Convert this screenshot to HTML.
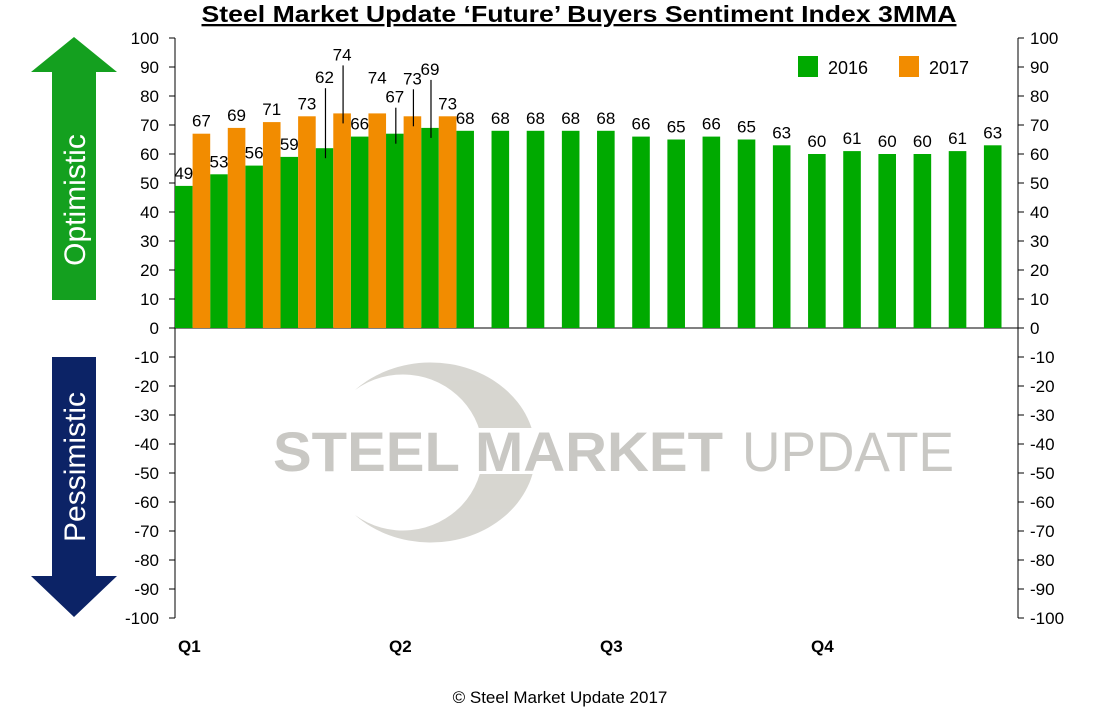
<!DOCTYPE html>
<html><head><meta charset="utf-8"><style>
html,body{margin:0;padding:0;background:#fff;}
svg{display:block;font-family:"Liberation Sans",sans-serif;}
</style></head><body>
<svg id="chart" width="1120" height="711" viewBox="0 0 1120 711">
  <text x="579" y="22" text-anchor="middle" font-size="23" font-weight="bold" textLength="755" lengthAdjust="spacingAndGlyphs" text-decoration="underline">Steel Market Update ‘Future’ Buyers Sentiment Index 3MMA</text>
  <g opacity="0.9">
    <path d="M 355 390 A 105 90 0 1 1 355 515 A 80 78 0 1 0 355 390 Z" fill="#d3d2cc"/>
    <rect x="470" y="428" width="75" height="46" fill="#fff"/>
    <text x="273" y="471" font-size="56" font-weight="bold" fill="#c4c3be" textLength="450" lengthAdjust="spacingAndGlyphs">STEEL MARKET</text>
    <text x="742" y="471" font-size="56" fill="#c4c3be" textLength="212" lengthAdjust="spacingAndGlyphs">UPDATE</text>
  </g>
  <g>
    <polygon points="74,37 117,72 96,72 96,300 52,300 52,72 31,72" fill="#14a01f"/>
    <text transform="translate(85,200) rotate(-90)" text-anchor="middle" font-size="30" fill="#fff">Optimistic</text>
  </g>
  <g>
    <polygon points="52,357 96,357 96,576 117,576 74,617 31,576 52,576" fill="#0c2366"/>
    <text transform="translate(85,467) rotate(-90)" text-anchor="middle" font-size="30" fill="#fff">Pessimistic</text>
  </g>
  <g id="axes"></g>
  <g id="bars"></g>
  <g id="labels"></g>
  <g>
    <rect x="798" y="56" width="20" height="21" fill="#00aa00"/>
    <text x="828" y="74" font-size="18">2016</text>
    <rect x="899" y="56" width="20" height="21" fill="#f28c00"/>
    <text x="929" y="74" font-size="18">2017</text>
  </g>
  <text x="560" y="703" text-anchor="middle" font-size="17">© Steel Market Update 2017</text>
</svg>
<script>
const values2016 = [49,53,56,59,62,66,67,69,68,68,68,68,68,66,65,66,65,63,60,61,60,60,61,63];
const values2017 = [67,69,71,73,74,74,73,73];
const quarterLabels = ["Q1","Q2","Q3","Q4"];
const quarterStartIndex = [0,6,12,18];
const yTicks = [100,90,80,70,60,50,40,30,20,10,0,-10,-20,-30,-40,-50,-60,-70,-80,-90,-100];
// extra label lift (px) and leader-line flags, presentation only
const lift2016 = [0,0,0,0,58,0,24,46,0,0,0,0,0,0,0,0,0,0,0,0,0,0,0,0];
const lift2017 = [0,0,0,0,46,23,25,0];

const NS="http://www.w3.org/2000/svg";
const X0=175, X1=1018, SLOT=35.17, BW=17.6;
const Y0=328, PX=2.9;
const y = v => Y0 - v*PX;
const xg = i => X0 + i*SLOT;
const xo = i => X0 + i*SLOT + BW;
function mk(tag, attrs, parent){const e=document.createElementNS(NS,tag);for(const k in attrs)e.setAttribute(k,attrs[k]);parent.appendChild(e);return e;}
const axes=document.getElementById('axes'), bars=document.getElementById('bars'), labels=document.getElementById('labels');

let a=mk('line',{x1:X0,y1:y(100),x2:X0,y2:y(-100),stroke:'#000','stroke-width':1},axes);


a=mk('line',{x1:X1,y1:y(100),x2:X1,y2:y(-100),stroke:'#000','stroke-width':1},axes);


a=mk('line',{x1:X0,y1:Y0,x2:X1,y2:Y0,stroke:'#000','stroke-width':1},axes);


yTicks.forEach(t=>{
  const yy=y(t);
  mk('line',{x1:X0-6,y1:yy,x2:X0,y2:yy,stroke:'#000'},axes);
  mk('line',{x1:X1,y1:yy,x2:X1+6,y2:yy,stroke:'#000'},axes);
  let l=mk('text',{x:X0-16,y:yy+6,'text-anchor':'end','font-size':17},axes);
  l.textContent=t;
  
  
  let r=mk('text',{x:X1+12,y:yy+6,'font-size':17},axes);
  r.textContent=t;
  
  
});
quarterLabels.forEach((q,i)=>{
  let t=mk('text',{x:xg(quarterStartIndex[i])+3,y:652,'font-size':17,'font-weight':'bold'},axes);
  t.textContent=q;
  
  
});
function label(cx, v, lift, parent){
  const top=y(v);
  const ty=top-7-lift;
  if(lift>20 && lift!==23){mk('line',{x1:cx+1,y1:ty+5,x2:cx+1,y2:top+10,stroke:'#000','stroke-width':1.2},parent);}
  let t=mk('text',{x:cx,y:ty,'text-anchor':'middle','font-size':17},parent);
  t.textContent=v;
  
  
}
values2016.forEach((v,i)=>{
  let b=mk('rect',{x:xg(i),y:Math.min(y(v),Y0),width:BW,height:Math.abs(y(v)-Y0),fill:'#00aa00'},bars);
  
  
  label(xg(i)+BW/2, v, lift2016[i]||0, labels);
});
values2017.forEach((v,i)=>{
  let b=mk('rect',{x:xo(i),y:Math.min(y(v),Y0),width:BW,height:Math.abs(y(v)-Y0),fill:'#f28c00'},bars);
  
  
  label(xo(i)+BW/2, v, lift2017[i]||0, labels);
});
</script>
</body></html>
